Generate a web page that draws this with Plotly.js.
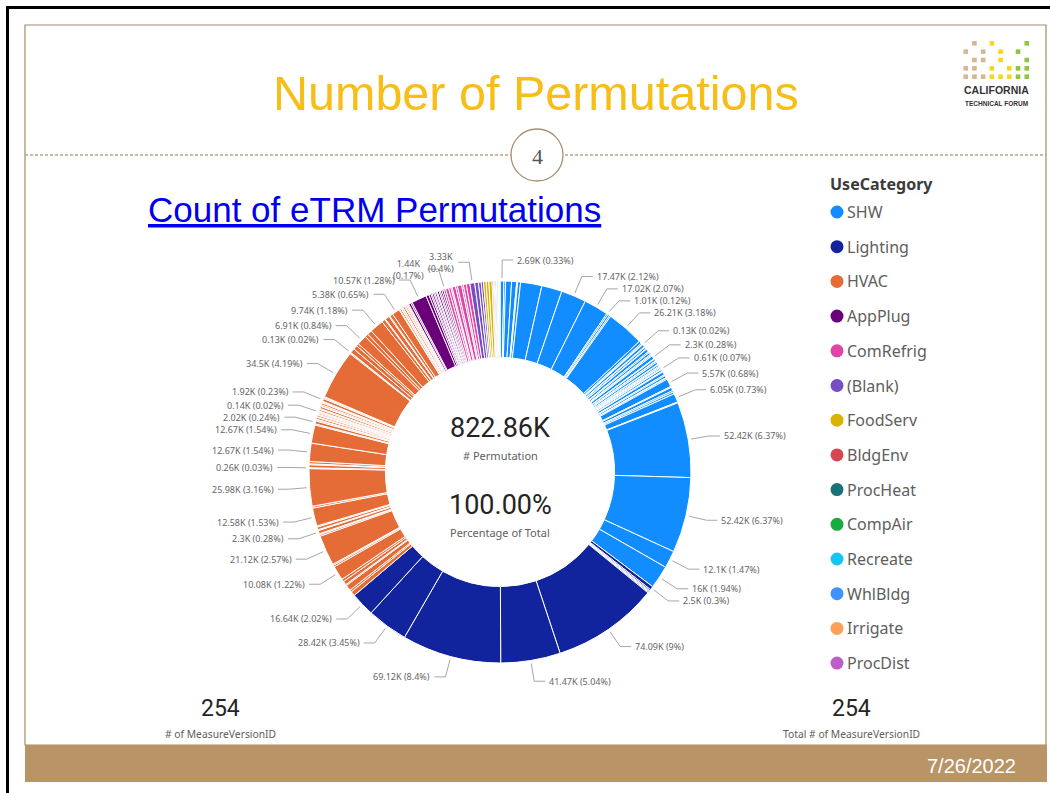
<!DOCTYPE html>
<html><head><meta charset="utf-8">
<script src="https://cdn.plot.ly/plotly-3.0.1.min.js"></script>
<style>html,body{margin:0;padding:0;background:#fff;overflow:hidden}#chart{width:1050px;height:793px}</style>
</head><body><div id="chart"></div>
<script>
// ---------------- DATA ----------------
const categories = ["SHW","Lighting","HVAC","AppPlug","ComRefrig","(Blank)","FoodServ","BldgEnv","ProcHeat","CompAir","Recreate","WhlBldg","Irrigate","ProcDist"];
const categoryColors = ["#118DFF","#12239E","#E66C37","#6B007B","#E044A7","#744EC2","#D9B300","#D64550","#197278","#1AAB40","#15C6F4","#4092FF","#FFA058","#BE5DC9"];

// # Permutation per MeasureVersionID (thousands), clockwise order within each UseCategory
const shwValues = [2.69, 1.2, 4.1, 3.5, 0.4, 0.3, 2.0, 14.8, 14.2, 17.47, 17.02, 1.01, 1.3, 0.9, 26.206, 1.8, 0.8, 0.5, 0.13, 1.8, 0.6, 1.2, 0.4, 2.1, 0.9, 1.5, 0.7, 0.8, 2.3, 0.5, 1.4, 0.3, 0.9, 1.6, 0.4, 1.1, 0.7, 0.6, 0.9, 0.61, 1.3, 0.6, 2.2, 0.8, 1.5, 0.4, 0.9, 5.57, 0.7, 2.4, 1.1, 1.4, 6.046, 0.6, 52.42, 52.42, 12.1, 16];
const lightingValues = [2.5, 0.9, 0.7, 0.5, 0.7, 74.09, 41.47, 69.12, 28.42, 16.64];
const hvacValues = [3.2, 1.4, 4.1, 0.8, 2.6, 1.8, 10.078, 1.2, 0.8, 21.12, 1.1, 0.7, 2.3, 0.6, 1.9, 0.8, 12.58, 1.3, 25.98, 0.35, 0.26, 2.1, 0.6, 1.6, 12.67, 12.67, 0.8, 2.0155, 0.9, 0.4, 1.3, 0.5, 1.1, 0.6, 0.9, 0.8, 0.14, 0.5, 1.2, 0.7, 1.5, 0.4, 0.9, 1.3, 0.6, 0.6, 1.92, 0.8, 0.6, 34.5, 0.75, 0.13, 3.2, 2.9, 1.8, 6.91, 2.3, 3.3, 9.74, 2.4, 0.5, 3.1, 0.6, 2.3, 5.38, 0.5, 1.1, 0.4, 0.8, 0.3, 1.2, 0.6, 0.9, 0.4, 0.7, 0.7];
const appPlugValues = [1.6, 1.0, 10.57, 2.1, 1.4, 0.9, 1.2, 0.8, 1.1, 0.7, 1.3, 0.9, 1.2, 1.2];
const comRefrigValues = [1.438, 2.1, 1.6, 0.9, 2.4, 1.3, 3.0, 1.2, 2.0, 2.56];
const blankValues = [3.33, 2.6, 1.9, 1.57];
const foodServValues = [1.8, 1.9, 2.2];
const bldgEnvValues = [0.9, 0.6, 0.7];
const procHeatValues = [0.8, 0.4];
const compAirValues = [0.7, 0.3];
const recreateValues = [0.35];
const whlBldgValues = [0.3];
const irrigateValues = [0.25];
const procDistValues = [0.1665];

// slices that carry a data label (clockwise order)
const shwLabeled = [2.69, 17.47, 17.02, 1.01, 26.206, 0.13, 2.3, 0.61, 5.57, 6.046, 52.42, 52.42, 12.1, 16];
const lightingLabeled = [2.5, 74.09, 41.47, 69.12, 28.42, 16.64];
const hvacLabeled = [10.078, 21.12, 2.3, 12.58, 25.98, 0.26, 12.67, 12.67, 2.0155, 0.14, 1.92, 34.5, 0.13, 6.91, 9.74, 5.38];
const appPlugLabeled = [10.57];
const comRefrigLabeled = [1.438];
const blankLabeled = [3.33];

const measureVersionCount = 254;
const totalMeasureVersionCount = 254;
const reportDate = "7/26/2022";

// ---------------- BUILD ----------------
const seriesValues = [shwValues, lightingValues, hvacValues, appPlugValues, comRefrigValues, blankValues, foodServValues, bldgEnvValues, procHeatValues, compAirValues, recreateValues, whlBldgValues, irrigateValues, procDistValues];
const seriesLabeled = [shwLabeled, lightingLabeled, hvacLabeled, appPlugLabeled, comRefrigLabeled, blankLabeled, [], [], [], [], [], [], [], []];

const slices = [];
seriesValues.forEach((vals, ci) => {
  let j = 0; const lab = seriesLabeled[ci];
  vals.forEach(v => {
    let labeled = false;
    if (j < lab.length && v === lab[j]) { labeled = true; j++; }
    slices.push({v, ci, labeled});
  });
});
const allValues = slices.map(s => s.v);
const total = allValues.reduce((a, b) => a + b, 0);
let cum = 0;
slices.forEach(s => { s.start = cum / total * 360; cum += s.v; s.end = cum / total * 360; s.mid = (s.start + s.end) / 2; });

const W = 1050, H = 793, CX = 500, CY = 472, R = 191;
const px = x => x / W, py = y => 1 - y / H;
const fmtNum = v => String(Number(v.toFixed(2)));

const shapes = [];
const annotations = [];
const SEGOE = "'Segoe UI', 'Noto Sans', sans-serif";
const LABEL_FONT = {family: SEGOE, size: 9, color: "#666666"};
function addText(text, x, y, font, opts) {
  annotations.push(Object.assign({text, x: px(x), y: py(y), xref:'paper', yref:'paper', xanchor:'center', yanchor:'middle', showarrow:false, font}, opts || {}));
}

// frame
shapes.push({type:'rect', xref:'paper', yref:'paper', x0:px(25), x1:px(1046), y0:py(745), y1:py(25), line:{color:'#A08C64', width:1.2}, fillcolor:'rgba(0,0,0,0)', layer:'below'});
shapes.push({type:'rect', xref:'paper', yref:'paper', x0:px(25), x1:px(1047), y0:py(782), y1:py(745), line:{width:0}, fillcolor:'#B89467'});
shapes.push({type:'line', xref:'paper', yref:'paper', x0:px(7.5), x1:px(7.5), y0:py(6), y1:py(793), line:{color:'#000', width:3}});
shapes.push({type:'line', xref:'paper', yref:'paper', x0:px(6), x1:px(1050), y0:py(7.5), y1:py(7.5), line:{color:'#000', width:3}});
shapes.push({type:'line', xref:'paper', yref:'paper', x0:px(25), x1:px(1046), y0:py(155), y1:py(155), line:{color:'#BBA57F', width:1.3, dash:'3px,2px'}});
shapes.push({type:'circle', xref:'paper', yref:'paper', x0:px(511), x1:px(563), y0:py(181), y1:py(129), line:{color:'#A89070', width:1.3}, fillcolor:'#FFFFFF'});

// logo dots
const logoRows = ["-T-Y---G", "T-T-Y-G-", "-TT-Y--G", "TT-Y-YGG", "TTTYYYGG"];
const logoColors = {T:'#D3B893', Y:'#F9D523', G:'#8DC63F'};
logoRows.forEach((row, r) => {
  row.split('').forEach((ch, c) => {
    if (ch === '-') return;
    const x = 965.7 + c * 8.72, y = 43.3 + r * 8.35;
    shapes.push({type:'rect', xref:'paper', yref:'paper', x0:px(x-2.3), x1:px(x+2.3), y0:py(y+2.3), y1:py(y-2.3), line:{width:0}, fillcolor:logoColors[ch]});
  });
});
addText('<b>CALIFORNIA</b>', 996, 90, {family:'Liberation Sans, Arial', size:10.5, color:'#333'});
addText('<b>TECHNICAL FORUM</b>', 996, 103, {family:'Liberation Sans, Arial', size:6.5, color:'#333'});

// titles
addText('Number of Permutations', 536, 93, {family:'Liberation Sans, Arial', size:48.5, color:'#F7BE1A'});
addText('<span style="text-decoration:underline">Count of eTRM Permutations</span>', 374, 210, {family:'Liberation Sans, Arial', size:35, color:'#0000EE'});
addText('4', 537, 156, {family:'Liberation Serif, DejaVu Serif', size:22, color:'#555'});
addText(reportDate, 1018, 766, {family:'Liberation Sans, Arial', size:20, color:'#FFFFFF'}, {xanchor:'right'});

// center card
addText(total.toFixed(2) + 'K', CX, 428, {family:'Roboto', size:27, color:'#252423'});
addText('# Permutation', CX, 455, {family:SEGOE, size:11, color:'#605E5C'});
addText((total / total * 100).toFixed(2) + '%', CX, 505, {family:'Roboto', size:27, color:'#252423'});
addText('Percentage of Total', CX, 532, {family:SEGOE, size:11, color:'#605E5C'});

// count cards
[[220, measureVersionCount, '# of MeasureVersionID'], [851, totalMeasureVersionCount, 'Total # of MeasureVersionID']].forEach(([x, n, t]) => {
  addText(String(n), x, 708, {family:'Roboto', size:23, color:'#252423'});
  addText(t, x, 734, {family:SEGOE, size:10.3, color:'#605E5C'});
});

// legend
addText('<b>UseCategory</b>', 828, 184, {family:SEGOE, size:16, color:'#3A3A3A'}, {xanchor:'left'});
categories.forEach((c, i) => {
  const y = 212 + i * 34.7;
  shapes.push({type:'circle', xref:'paper', yref:'paper', x0:px(837-6.5), x1:px(837+6.5), y0:py(y+6.5), y1:py(y-6.5), line:{width:0}, fillcolor:categoryColors[i]});
  addText(c, 845, y, {family:SEGOE, size:16, color:'#605E5C'}, {xanchor:'left'});
});

// data labels with leader lines
const LEAD = 21;
const labelItems = [];
slices.filter(s => s.labeled).forEach(s => {
  const a = s.mid * Math.PI / 180, dx = Math.sin(a), dy = -Math.cos(a);
  const right = dx >= 0;
  const wrap = !right && dy < -0.94;
  const tv = fmtNum(s.v) + 'K', tp = '(' + fmtNum(s.v / total * 100) + '%)';
  const text = wrap ? tv + '<br>' + tp : tv + ' ' + tp;
  const chars = wrap ? Math.max(tv.length, tp.length) : tv.length + 1 + tp.length;
  const w = chars * 4.4;
  const ex = CX + (R + LEAD) * dx, ey = CY + (R + LEAD) * dy;
  labelItems.push({dx, dy, right, wrap, text, w, h: wrap ? 24 : 12, ex, y: ey});
});
const xr = l => l.right ? [l.ex + 14, l.ex + 14 + l.w] : [l.ex - 14 - l.w, l.ex - 14];
[true, false].forEach(side => {
  const items = labelItems.filter(l => l.right === side).sort((a, b) => a.y - b.y);
  for (let i = 1; i < items.length; i++) {
    for (let k = 0; k < i; k++) {
      const A = items[k], B = items[i];
      const [a0, a1] = xr(A), [b0, b1] = xr(B);
      if (a1 - b0 < 3 || b1 - a0 < 3) continue;
      const need = (A.h + B.h) / 2;
      if (B.y - A.y < need) B.y = A.y + need;
    }
  }
});
labelItems.forEach(l => {
  const x0 = CX + (R + 3) * l.dx, y0 = CY + (R + 3) * l.dy;
  const hx = l.right ? l.ex + 11 : l.ex - 11;
  shapes.push({type:'line', xref:'paper', yref:'paper', x0:px(x0), y0:py(y0), x1:px(l.ex), y1:py(l.y), line:{color:'#A6A6A6', width:1}});
  shapes.push({type:'line', xref:'paper', yref:'paper', x0:px(l.ex), y0:py(l.y), x1:px(hx), y1:py(l.y), line:{color:'#A6A6A6', width:1}});
  addText(l.text, l.right ? l.ex + 13 : l.ex - 13, l.y, LABEL_FONT, {xanchor: l.right ? 'left' : 'right', align:'center'});
});

const trace = {
  type:'pie',
  values: allValues,
  labels: slices.map((s, i) => categories[s.ci] + ' #' + (i + 1)),
  marker: {colors: slices.map(s => categoryColors[s.ci]), line: {color:'#FFFFFF', width:1}},
  sort: false, direction: 'clockwise', rotation: 0, hole: 0.6,
  textinfo: 'none', hoverinfo: 'none', showlegend: false,
  domain: {x: [px(CX - R), px(CX + R)], y: [py(CY + R), py(CY - R)]}
};

Plotly.newPlot('chart', [trace], {
  width: W, height: H, margin: {l:0, r:0, t:0, b:0},
  paper_bgcolor: '#FFFFFF', plot_bgcolor: '#FFFFFF', showlegend: false,
  shapes, annotations
}, {staticPlot: true, displayModeBar: false});
</script>
</body></html>
